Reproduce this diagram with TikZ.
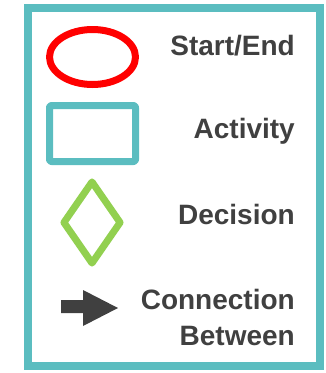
\documentclass[tikz,border=0pt]{standalone}
\usepackage{fontspec}
\setmainfont{Liberation Sans}
\usetikzlibrary{shapes.geometric}
\definecolor{legteal}{HTML}{5BBDC0}
\definecolor{legred}{HTML}{FF0000}
\definecolor{leggreen}{HTML}{92D050}
\definecolor{legtext}{HTML}{404040}
\tikzset{
    legtxt/.style={anchor=base east, inner sep=0, text=legtext, font=\fontsize{28}{34}\selectfont\bfseries, align=right},
    legshape/.style={line width=7pt, inner sep=0, line join=round}
}
\begin{document}
\begin{tikzpicture}[x=1pt, y=-1pt]
        \useasboundingbox (0,0) rectangle (326,373);
        %frame
        \draw[color=legteal, line width=8pt] (28,8) rectangle (320,366);
        
        %symbols
        \node[legshape, draw=legred, ellipse, minimum width=86pt, minimum height=55pt] (startend) at (92.5,57) {};
        \node[legshape, draw=legteal, rectangle, rounded corners=2pt, minimum width=86pt, minimum height=56pt] (activity) at (92.5,133.5) {};
        \node[legshape, draw=leggreen, diamond, minimum width=59pt, minimum height=84pt] (decision) at (92,222.5) {};
        \fill[legtext] (61,300) -- (83,300) -- (83,290) -- (118,308) -- (83,326) -- (83,313) -- (61,313) -- cycle;
        
        %labels
        \node[legtxt] (startendtxt) at (295,55) {Start/End};
        \node[legtxt] (activitytxt) at (295,138) {Activity};
        \node[legtxt] (decisiontxt) at (295,224) {Decision};
        \node[legtxt] (conntxt) at (295,309) {Connection};
        \node[legtxt] (betweentxt) at (295,345) {Between};
\end{tikzpicture}
\end{document}
